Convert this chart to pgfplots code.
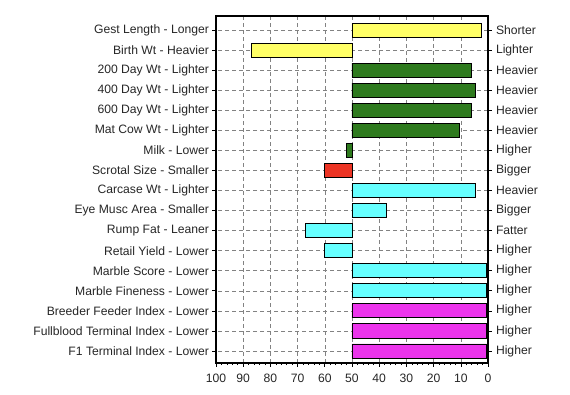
\documentclass[border=0pt]{standalone}
\usepackage{pgfplots}
\pgfplotsset{compat=1.18}
\usepackage{fontspec}
\setmainfont{Liberation Sans}
\definecolor{cyel}{RGB}{255,255,102}
\definecolor{cgrn}{RGB}{46,122,30}
\definecolor{cred}{RGB}{236,52,36}
\definecolor{ccyn}{RGB}{102,255,255}
\definecolor{cmag}{RGB}{236,52,236}
\definecolor{cgrid}{RGB}{130,130,130}
\begin{document}
\begin{tikzpicture}
\pgfplotsset{
  common/.style={
    width=272bp, height=347bp, scale only axis,
    xmin=0, xmax=100, x dir=reverse,
    ymin=-0.7, ymax=16.6, y dir=reverse,
    ytick={0,...,16},
    tick align=outside,
    major tick length=3.5bp, minor tick length=2bp,
    tick style={black, line width=0.6bp},
    every tick label/.append style={font=\fontsize{12.2}{14}\selectfont, text=black!85},
    /pgf/number format/assume math mode=true,
  }
}
\begin{axis}[common,
  at={(0,0)}, anchor=south west,
  x coord trafo/.code={\pgfmathparse{#1-50}},
  x coord inv trafo/.code={\pgfmathparse{#1+50}},
  xtick={0,10,...,100}, minor x tick num=4,
  xtick pos=bottom, ytick pos=left,
  xticklabel style={yshift=-4bp},
  xmajorgrids, ymajorgrids,
  major grid style={cgrid, dash pattern=on 4bp off 3bp, line width=0.5bp},
  axis line style={black, line width=1.5bp},
  yticklabels={Gest Length - Longer, Birth Wt - Heavier, 200 Day Wt - Lighter, 400 Day Wt - Lighter, 600 Day Wt - Lighter, Mat Cow Wt - Lighter, Milk - Lower, Scrotal Size - Smaller, Carcase Wt - Lighter, Eye Musc Area - Smaller, Rump Fat - Leaner, Retail Yield - Lower, Marble Score - Lower, Marble Fineness - Lower, Breeder Feeder Index - Lower, Fullblood Terminal Index - Lower, F1 Terminal Index - Lower},
  xbar, bar width=0.7, bar shift=0,
]
\addplot[draw=black, line width=0.8bp, fill=cyel] coordinates {(2.5,0) (87,1)};
\addplot[draw=black, line width=0.8bp, fill=cgrn] coordinates {(6,2) (4.5,3) (6,4) (10.5,5) (52,6)};
\addplot[draw=black, line width=0.8bp, fill=cred] coordinates {(60,7)};
\addplot[draw=black, line width=0.8bp, fill=ccyn] coordinates {(4.5,8) (37.2,9) (67.2,10) (60,11) (0.5,12) (0.5,13)};
\addplot[draw=black, line width=0.8bp, fill=cmag] coordinates {(0.5,14) (0.5,15) (0.5,16)};
\end{axis}
\begin{axis}[common,
  at={(0,0)}, anchor=south west,
  axis x line=none, axis y line*=right,
  ytick pos=right,
  axis line style={black, line width=1.5bp},
  yticklabels={Shorter, Lighter, Heavier, Heavier, Heavier, Heavier, Higher, Bigger, Heavier, Bigger, Fatter, Higher, Higher, Higher, Higher, Higher, Higher},
  yticklabel style={anchor=west, xshift=1bp},
]
\addplot[draw=none] coordinates {(50,0) (50,16)};
\end{axis}
\path[use as bounding box] (-216bp,-32bp) rectangle (354bp,363bp);
\end{tikzpicture}
\end{document}
